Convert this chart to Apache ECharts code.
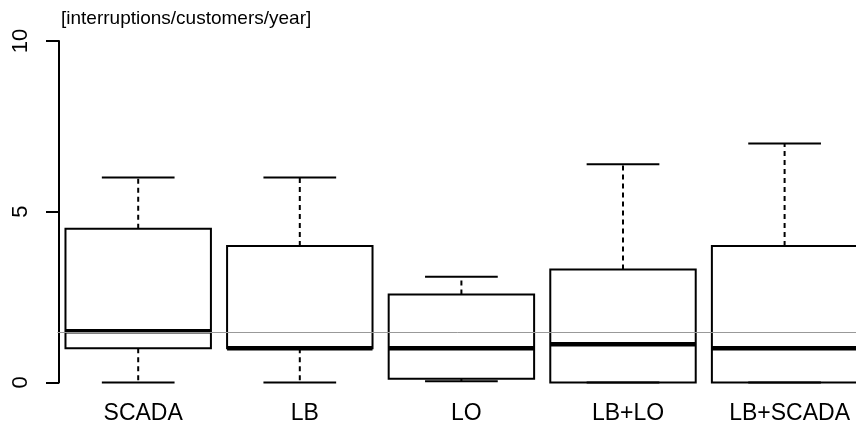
<!DOCTYPE html>
<html>
<head>
<meta charset="utf-8">
<script src="https://cdn.jsdelivr.net/npm/echarts@6/dist/echarts.min.js"></script>
<style>html,body{margin:0;padding:0;background:#fff}#c{width:856px;height:428px}</style>
</head>
<body>
<div id="c"></div>
<script>
const categories = ['SCADA', 'LB', 'LO', 'LB+LO', 'LB+SCADA'];
const whiskerLow = [0, 0, 0.04, 0, 0];
const q1 = [1.0, 1.0, 0.11, 0.0, 0.0];
const median = [1.5, 1.0, 1.0, 1.12, 1.0];
const q3 = [4.5, 4.0, 2.58, 3.31, 4.0];
const whiskerHigh = [6.0, 6.0, 3.1, 6.39, 7.0];
const refLine = 1.48;
const yTicks = [0, 5, 10];
const yTitle = '[interruptions/customers/year]';

const data = categories.map((c, i) => [i, whiskerLow[i], q1[i], median[i], q3[i], whiskerHigh[i]]);
const FONT = '"Liberation Sans", Arial, Helvetica, sans-serif';

const chart = echarts.init(document.getElementById('c'), null, {renderer: 'canvas'});
chart.setOption({
  animation: false,
  backgroundColor: '#fff',
  title: {
    text: yTitle, left: 56, top: 4,
    textStyle: {fontFamily: FONT, fontSize: 19, fontWeight: 'normal', color: '#000'}
  },
  grid: {left: 57.4, width: 808, top: 41, bottom: 45.5, containLabel: false, outerBoundsMode: 'none'},
  xAxis: {
    type: 'category', data: categories, boundaryGap: true,
    axisLine: {show: false}, axisTick: {show: false}, splitLine: {show: false},
    axisLabel: {fontFamily: FONT, fontSize: 23, color: '#000', margin: 20, interval: 0, padding: [0, 0, 0, 10]}
  },
  yAxis: {
    type: 'value', min: 0, max: 10, interval: 5, offset: -1.6,
    axisLine: {show: true, lineStyle: {color: '#000', width: 2}},
    axisTick: {show: true, length: 13, lineStyle: {color: '#000', width: 2}},
    splitLine: {show: false},
    axisLabel: {
      fontFamily: FONT, fontSize: 22, color: '#000', rotate: 90, margin: 27,
      formatter: v => (yTicks.indexOf(v) >= 0 ? String(v) : '')
    }
  },
  series: [{
    type: 'custom',
    data: data,
    encode: {x: 0, y: [1, 2, 3, 4, 5]},
    clip: false,
    renderItem: function (params, api) {
      const idx = api.value(0);
      const lo = api.coord([idx, api.value(1)]);
      const b1 = api.coord([idx, api.value(2)]);
      const md = api.coord([idx, api.value(3)]);
      const b3 = api.coord([idx, api.value(4)]);
      const hi = api.coord([idx, api.value(5)]);
      const bw = api.size([1, 0])[0];
      const boxW = bw * 0.9;
      const capW = boxW / 2;
      const cx = md[0];
      const solid = {stroke: '#000', lineWidth: 2, fill: null};
      const dashed = {stroke: '#000', lineWidth: 2, lineDash: [5, 4], fill: null};
      return {
        type: 'group',
        children: [
          {type: 'line', shape: {x1: cx, y1: b3[1], x2: cx, y2: hi[1]}, style: dashed},
          {type: 'line', shape: {x1: cx, y1: b1[1], x2: cx, y2: lo[1]}, style: dashed},
          {type: 'line', shape: {x1: cx - capW / 2, y1: hi[1], x2: cx + capW / 2, y2: hi[1]}, style: solid},
          {type: 'line', shape: {x1: cx - capW / 2, y1: lo[1], x2: cx + capW / 2, y2: lo[1]}, style: solid},
          {type: 'rect', shape: {x: cx - boxW / 2, y: b3[1], width: boxW, height: b1[1] - b3[1]}, style: {stroke: '#000', lineWidth: 2, fill: 'rgba(0,0,0,0)'}},
          {type: 'line', shape: {x1: cx - boxW / 2, y1: md[1], x2: cx + boxW / 2, y2: md[1]}, style: {stroke: '#000', lineWidth: 4.5}}
        ]
      };
    },
    markLine: {
      silent: true, symbol: 'none', label: {show: false},
      lineStyle: {color: '#999', width: 1, type: 'solid'},
      data: [{yAxis: refLine}]
    },
    z: 2
  }]
});
</script>
</body>
</html>
